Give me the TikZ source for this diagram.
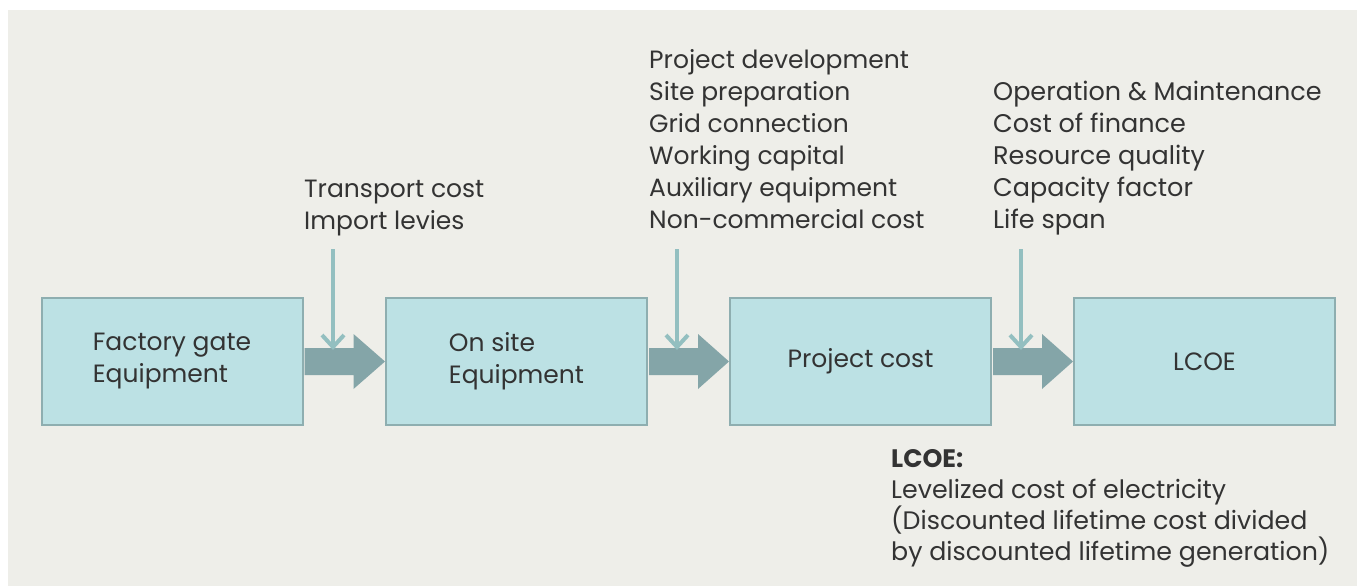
\documentclass[tikz,border=0pt]{standalone}
\usepackage{fontspec}
\setmainfont{Poppins}
\usetikzlibrary{arrows.meta,calc}
\definecolor{bgc}{HTML}{EEEEE9}
\definecolor{boxfill}{HTML}{BCE1E4}
\definecolor{boxline}{HTML}{8EAEB0}
\definecolor{bigarrow}{HTML}{84A5A8}
\definecolor{thinarrow}{HTML}{93BFC0}
\definecolor{txt}{HTML}{333333}
\begin{document}
\begin{tikzpicture}[x=1pt,y=-1pt,
  stagebox/.style={draw=boxline,line width=2pt,fill=boxfill,minimum width=261pt,minimum height=127pt,inner sep=0pt,align=left,text=txt,font=\fontsize{25}{32}\selectfont},
  listtext/.style={anchor=base west,inner sep=0pt,align=left,text=txt,font=\fontsize{25}{32}\selectfont},
  feed/.style={draw=thinarrow,line width=4pt,-{Straight Barb[length=12pt,width=22pt,line width=4pt]}},
  flow/.style={fill=bigarrow}]
\useasboundingbox (0,0) rectangle (1357,586);
\fill[white] (0,0) rectangle (1357,586);
\fill[bgc] (8,10) rectangle (1357,586);

\node[stagebox] (b1) at (172,361.5) {Factory gate\\Equipment};
\node[stagebox] (b2) at (516.5,361.5) {On site\\Equipment};
\node[stagebox] (b3) at (860.5,361.5) {Project cost};
\node[stagebox] (b4) at (1204.5,361.5) {LCOE};

\foreach \a/\b in {b1/b2,b2/b3,b3/b4}{
  \fill[flow] ($(\a.east)+(1,-13.5)$) -- ($(\a.east)+(50,-13.5)$) -- ($(\a.east)+(50,-27.5)$)
    -- (\b.west) -- ($(\a.east)+(50,27.5)$) -- ($(\a.east)+(50,13.5)$) -- ($(\a.east)+(1,13.5)$) -- cycle;
}

\coordinate (f1s) at (333,249); \coordinate (f1e) at (333,350);
\coordinate (f2s) at (677,249); \coordinate (f2e) at (677,350);
\coordinate (f3s) at (1021,249); \coordinate (f3e) at (1021,350);
\draw[feed] (f1s) -- (f1e);
\draw[feed] (f2s) -- (f2e);
\draw[feed] (f3s) -- (f3e);

\node[listtext] (tr) at (304,229) {Transport cost\\Import levies};
\node[listtext] (pd) at (649,228.5) {Project development\\Site preparation\\Grid connection\\Working capital\\Auxiliary equipment\\Non-commercial cost};
\node[listtext,font=\fontsize{25.5}{32}\selectfont] (om) at (993,228.5) {Operation \& Maintenance\\Cost of finance\\Resource quality\\Capacity factor\\Life span};
\node[listtext,font=\fontsize{25.3}{31}\selectfont] (lc) at (891,560.5) {\textbf{LCOE:}\\Levelized cost of electricity\\(Discounted lifetime cost divided\\by discounted lifetime generation)};
\end{tikzpicture}
\end{document}
